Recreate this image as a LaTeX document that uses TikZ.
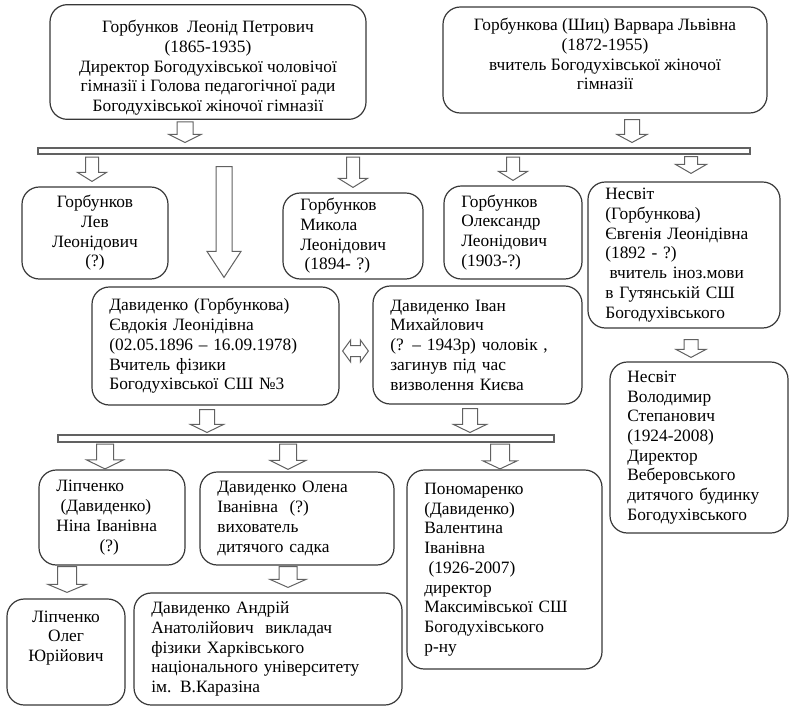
\documentclass[tikz,border=0pt]{standalone}
\usepackage{fontspec}
\setmainfont{Liberation Serif}
\usepackage{tikz}
\usetikzlibrary{calc}

\newcommand{\personfont}{\fontsize{13}{14.8}\selectfont}

\tikzset{
  person/.style={draw=black!78, line width=0.9pt, rounded corners=13pt,
    inner xsep=13pt, inner ysep=3pt, font=\personfont},
  hbar/.style={draw=black!62, line width=0.8pt, inner sep=0pt},
  hollow/.style={draw=black!62, line width=0.75pt, fill=white},
}

% hollow arrow pointing down, sizes in px: [shaft/head/headlength/gap top/gap bottom]{x}{from}{to}
\newcommand{\hollowarrow}[4][6.5/14.5/9/2.5/5]{\hollowarrowi#1\relax{#2}{#3}{#4}}
\def\hollowarrowi#1/#2/#3/#4/#5\relax#6#7#8{%
  \draw[hollow] let \p1=(#6,0), \p2=($(#7)+(0,#4)$), \p3=($(#8)+(0,-#5)$),
      \p4=($(#8)+(0,-#5-#3)$) in
    (\x1-#1*0.75pt,\y2) -- (\x1+#1*0.75pt,\y2) -- (\x1+#1*0.75pt,\y4)
    -- (\x1+#2*0.75pt,\y4) -- (\x1,\y3) -- (\x1-#2*0.75pt,\y4)
    -- (\x1-#1*0.75pt,\y4) -- cycle;}

\begin{document}
\begin{tikzpicture}[x=0.75pt, y=-0.75pt]
  \useasboundingbox (0,0) rectangle (791,707);

  % parents
  \node[person, align=center, minimum width=237pt, minimum height=82.5pt] (leonid) at (208,62)
    {\mbox{}\\[3.2pt]Горбунков\ \ Леонід Петрович\\ (1865-1935)\\ Директор Богодухівської чоловічої\\
     гімназії і Голова педагогічної ради\\ Богодухівської жіночої гімназії};
  \node[person, align=center, minimum width=243pt, minimum height=79.5pt] (varvara) at (605,60)
    {Горбункова (Шиц) Варвара Львівна\\ (1872-1955)\\ вчитель Богодухівської жіночої\\ гімназії\\[-6pt]\mbox{}};

  % bars
  \node[hbar, minimum width=534pt, minimum height=4.5pt] (bar1) at (394,151) {};
  \node[hbar, minimum width=372pt, minimum height=5.25pt] (bar2) at (306,438.5) {};

  % children
  \node[person, align=center, minimum width=109.5pt, minimum height=69pt] (lev) at (95,233)
    {Горбунков\\ Лев\\ Леонідович\\ (?)};
  \node[person, align=left, text width=79pt, minimum height=64.5pt] (mykola) at (353,236)
    {Горбунков\\ Микола\\ Леонідович\\ \hspace*{0.25em}(1894- ?)};
  \node[person, align=left, text width=77.5pt, minimum height=69.75pt] (oleks) at (513,232.5)
    {Горбунков\\ Олександр\\ Леонідович\\ (1903-?)};
  \node[person, align=left, text width=118pt, minimum height=109.5pt] (yevh) at (684,255)
    {Несвіт\\ (Горбункова)\\ Євгенія Леонідівна\\ (1892 - ?)\\ \hspace*{0.25em}вчитель іноз.мови\\
     в Гутянській СШ\\ Богодухівського};
  \node[person, align=left, text width=159.25pt, minimum height=88.5pt] (davyd) at (215.5,346)
    {Давиденко (Горбункова)\\ Євдокія Леонідівна\\ (02.05.1896 – 16.09.1978)\\ Вчитель фізики\\
     Богодухівської СШ №3};
  \node[person, align=left, text width=130.75pt, minimum height=88.5pt] (ivan) at (477.5,345)
    {Давиденко Іван\\ Михайлович\\ (? – 1943р) чоловік ,\\ загинув під час\\ визволення Києва};
  \node[person, align=left, text width=107.5pt, minimum height=128.25pt] (volod) at (699,447.5)
    {Несвіт\\ Володимир\\ Степанович\\ (1924-2008)\\ Директор\\ Веберовського\\ дитячого будинку\\
     Богодухівського};

  % grandchildren
  \node[person, align=left, text width=83.5pt, minimum height=71.25pt] (nina) at (112,517.5)
    {Ліпченко\\ \hspace*{0.25em}(Давиденко)\\ Ніна Іванівна\\ \hspace*{2.5em}(?)};
  \node[person, align=left, text width=119.5pt, minimum height=69.75pt] (olena) at (297,518.5)
    {Давиденко Олена\\ Іванівна\ \ (?)\\ вихователь\\ дитячого садка};
  \node[person, align=left, text width=120.25pt, minimum height=149.25pt] (valen) at (504.5,569.5)
    {Пономаренко\\ (Давиденко)\\ Валентина\\ Іванівна\\ \hspace*{0.25em}(1926-2007)\\ директор\\
     Максимівської СШ\\ Богодухівського\\ р-ну};
  \node[person, align=center, minimum width=88.5pt, minimum height=79.5pt] (oleh) at (66,652)
    {Ліпченко\\ Олег\\ Юрійович\\[9pt]\mbox{}};
  \node[person, align=left, text width=175pt, minimum height=84pt] (andriy) at (268,649)
    {Давиденко Андрій\\ Анатолійович\ \ викладач\\ фізики Харківського\\
     національного університету\\ ім. В.Каразіна};

  % arrows
  \hollowarrow[8/16/8/2/5]{185}{leonid.south}{bar1.north}
  \hollowarrow[7.5/15/8/6/5]{632}{varvara.south}{bar1.north}
  \hollowarrow{92}{bar1.south}{lev.north}
  \hollowarrow{353}{bar1.south}{mykola.north}
  \hollowarrow{513}{bar1.south}{oleks.north}
  \hollowarrow[6.5/15.5/9/2/8]{691}{bar1.south}{yevh.north}
  \hollowarrow[8/17/26/12/9]{224}{bar1.south}{davyd.north}
  \hollowarrow[7/15/8/11/4]{691}{yevh.south}{volod.north}
  \hollowarrow[7.5/16.5/8/4/2]{207}{davyd.south}{bar2.north}
  \hollowarrow[7.5/16.5/8/4/2]{470}{ivan.south}{bar2.north}
  \hollowarrow[8.5/18.5/9/1.5/0.5]{105}{bar2.south}{nina.north}
  \hollowarrow[8.5/18/9/1.5/2]{288}{bar2.south}{olena.north}
  \hollowarrow[9.5/17/8/1.5/0.5]{500}{bar2.south}{valen.north}
  \hollowarrow[9.5/19/8/1/6]{67}{nina.south}{oleh.north}
  \hollowarrow[9/18/8/1/5]{288}{olena.south}{andriy.north}

  % husband and wife
  \draw[hollow] let \p1=($(davyd.east)+(3,5)$), \p2=($(ivan.west)+(-4,5)$) in
    (\x1,\y1) -- (\x1+8*0.75pt,\y1+11*0.75pt) -- (\x1+8*0.75pt,\y1+5.5*0.75pt)
    -- (\x2-8*0.75pt,\y1+5.5*0.75pt) -- (\x2-8*0.75pt,\y1+11*0.75pt) -- (\x2,\y1)
    -- (\x2-8*0.75pt,\y1-11*0.75pt) -- (\x2-8*0.75pt,\y1-5.5*0.75pt)
    -- (\x1+8*0.75pt,\y1-5.5*0.75pt) -- (\x1+8*0.75pt,\y1-11*0.75pt) -- cycle;
\end{tikzpicture}
\end{document}
